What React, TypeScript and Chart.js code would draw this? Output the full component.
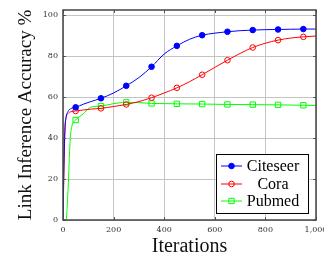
import React, { useEffect, useRef } from "react";
import { Chart, registerables } from "chart.js";

Chart.register(...registerables);

const iterations = [0, 4, 8, 12, 20, 30, 50, 80, 110, 150, 200, 250, 300, 350, 400, 450, 500, 550, 600, 650, 700, 750, 800, 850, 900, 950, 1000];
const citeseer = [0, 30, 45, 50, 53, 54.3, 55, 56.5, 57.8, 59.4, 62, 65.5, 69.5, 74.8, 81, 85, 88.2, 90.2, 91.2, 91.9, 92.4, 92.7, 92.9, 93, 93.1, 93.2, 93.2];
const cora = [0, 25, 45, 50, 52, 52.8, 53.2, 53.7, 54.1, 54.5, 55.4, 56.4, 57.8, 59.7, 62, 64.5, 67.5, 70.9, 74.5, 78, 81.3, 84.2, 86.3, 87.8, 88.8, 89.4, 89.8];
const pubmed = [0, 0, 0, 0, 15, 42, 48.8, 51.8, 55.1, 55.6, 56.8, 57.4, 57.3, 56.9, 56.8, 56.7, 56.65, 56.6, 56.5, 56.4, 56.35, 56.3, 56.25, 56.2, 56.1, 56, 55.9];
const markerIterations = [50, 150, 250, 350, 450, 550, 650, 750, 850, 950];
const seriesNames = ["Citeseer", "Cora", "Pubmed"];
const xTicks = [0, 200, 400, 600, 800, 1000];
const yTicks = [0, 20, 40, 60, 80, 100];

const SERIF = "'Liberation Serif', 'Times New Roman', serif";
const TICKFONT = "'DejaVu Serif', serif";

const colors = ["#0000ff", "#ff0000", "#00ff00"];
const styles = ["circle", "circle", "rect"];
const fills = ["#0000ff", "rgba(0,0,0,0)", "rgba(0,0,0,0)"];
const radii = [2.8, 2.8, 3.8];

function drawMarker(ctx: CanvasRenderingContext2D, i: number, x: number, y: number) {
  ctx.save();
  ctx.lineWidth = 1;
  ctx.strokeStyle = colors[i];
  ctx.fillStyle = fills[i];
  ctx.beginPath();
  if (styles[i] === "rect") {
    const s = Math.SQRT1_2 * radii[i];
    ctx.rect(x - s, y - s, 2 * s, 2 * s);
  } else {
    ctx.arc(x, y, radii[i], 0, Math.PI * 2);
  }
  ctx.fill();
  ctx.stroke();
  ctx.restore();
}

const framePlugin = {
  id: "frameAndLegend",
  afterDraw(chart: any) {
    const { ctx, chartArea } = chart;
    const { left, right, top, bottom } = chartArea;
    const xs = chart.scales.x;
    const ys = chart.scales.y;
    ctx.save();
    // inner tick marks
    ctx.strokeStyle = "#555";
    ctx.lineWidth = 1;
    ctx.beginPath();
    xTicks.forEach((v) => {
      const px = Math.round(xs.getPixelForValue(v)) + 0.5;
      ctx.moveTo(px, bottom);
      ctx.lineTo(px, bottom - 3);
      ctx.moveTo(px, top);
      ctx.lineTo(px, top + 3);
    });
    yTicks.forEach((v) => {
      const py = Math.round(ys.getPixelForValue(v)) + 0.5;
      ctx.moveTo(left, py);
      ctx.lineTo(left + 3, py);
      ctx.moveTo(right, py);
      ctx.lineTo(right - 3, py);
    });
    ctx.stroke();
    // frame
    ctx.strokeStyle = "#444";
    ctx.lineWidth = 1.5;
    ctx.strokeRect(left, top, right - left, bottom - top);

    // legend
    const bx = 216, by = 154, bw = 92, bh = 59;
    ctx.fillStyle = "#ffffff";
    ctx.fillRect(bx, by, bw, bh);
    ctx.strokeStyle = "#000";
    ctx.lineWidth = 1;
    ctx.strokeRect(bx + 0.5, by + 0.5, bw, bh);
    const rows = [166, 184, 201];
    ctx.font = `16px ${SERIF}`;
    ctx.textAlign = "center";
    ctx.textBaseline = "middle";
    seriesNames.forEach((name, i) => {
      const y = rows[i];
      ctx.strokeStyle = colors[i];
      ctx.lineWidth = 1;
      ctx.beginPath();
      ctx.moveTo(221, y);
      ctx.lineTo(242, y);
      ctx.stroke();
      drawMarker(ctx, i, 231.5, y);
      ctx.fillStyle = "#000";
      ctx.fillText(name, 273, y + 1);
    });
    ctx.restore();
  },
};

export default function App() {
  const ref = useRef<HTMLCanvasElement | null>(null);
  useEffect(() => {
    document.documentElement.style.overflow = "hidden";
    document.body.style.overflow = "hidden";
    document.body.style.margin = "0";
    if (!ref.current) return;
    const seriesValues = [citeseer, cora, pubmed];
    const datasets = seriesValues.map((vals, i) => ({
      label: seriesNames[i],
      data: vals.map((v, j) => ({ x: iterations[j], y: v })),
      borderColor: colors[i],
      backgroundColor: fills[i],
      pointBorderColor: colors[i],
      pointBackgroundColor: fills[i],
      pointStyle: styles[i],
      borderWidth: 1,
      pointBorderWidth: 1,
      pointRadius: (c: any) => (markerIterations.includes(iterations[c.dataIndex]) ? radii[i] : 0),
      cubicInterpolationMode: "monotone",
      fill: false,
    }));
    const chart = new Chart(ref.current, {
      type: "line",
      data: { datasets: datasets as any },
      options: {
        animation: false,
        responsive: false,
        maintainAspectRatio: false,
        layout: { padding: { left: 0, top: 10, right: 29, bottom: 0 } },
        plugins: { legend: { display: false }, tooltip: { enabled: false } },
        scales: {
          x: {
            type: "linear",
            min: 0,
            max: 1000,
            afterFit: (s: any) => {
              s.height = 36;
            },
            afterBuildTicks: (s: any) => {
              s.ticks = xTicks.map((v) => ({ value: v }));
            },
            grid: { color: "#c4c4c4", lineWidth: 1, drawTicks: false },
            border: { display: false },
            ticks: {
              padding: 5,
              color: "#333",
              font: { family: TICKFONT, size: 8 },
              maxRotation: 0,
            },
            title: {
              display: true,
              text: "Iterations",
              color: "#111",
              font: { family: SERIF, size: 20, lineHeight: 0.9 },
              padding: { top: 0, bottom: 0 },
            },
          },
          y: {
            type: "linear",
            min: 0,
            max: 102.5,
            afterFit: (s: any) => {
              s.width = 63;
            },
            afterBuildTicks: (s: any) => {
              s.ticks = yTicks.map((v) => ({ value: v }));
            },
            grid: { color: "#c4c4c4", lineWidth: 1, drawTicks: false },
            border: { display: false },
            ticks: {
              padding: 5,
              color: "#333",
              font: { family: TICKFONT, size: 8 },
            },
            title: {
              display: true,
              text: "Link Inference Accuracy %",
              color: "#111",
              font: { family: SERIF, size: 19, lineHeight: 1.2 },
              padding: { top: 15, bottom: 0 },
            },
          },
        },
      },
      plugins: [framePlugin],
    });
    return () => chart.destroy();
  }, []);
  return (
    <div style={{ position: "absolute", left: 0, top: 0, width: 345, height: 256 }}>
      <canvas ref={ref} width={345} height={256} style={{ width: 345, height: 256 }} />
    </div>
  );
}
